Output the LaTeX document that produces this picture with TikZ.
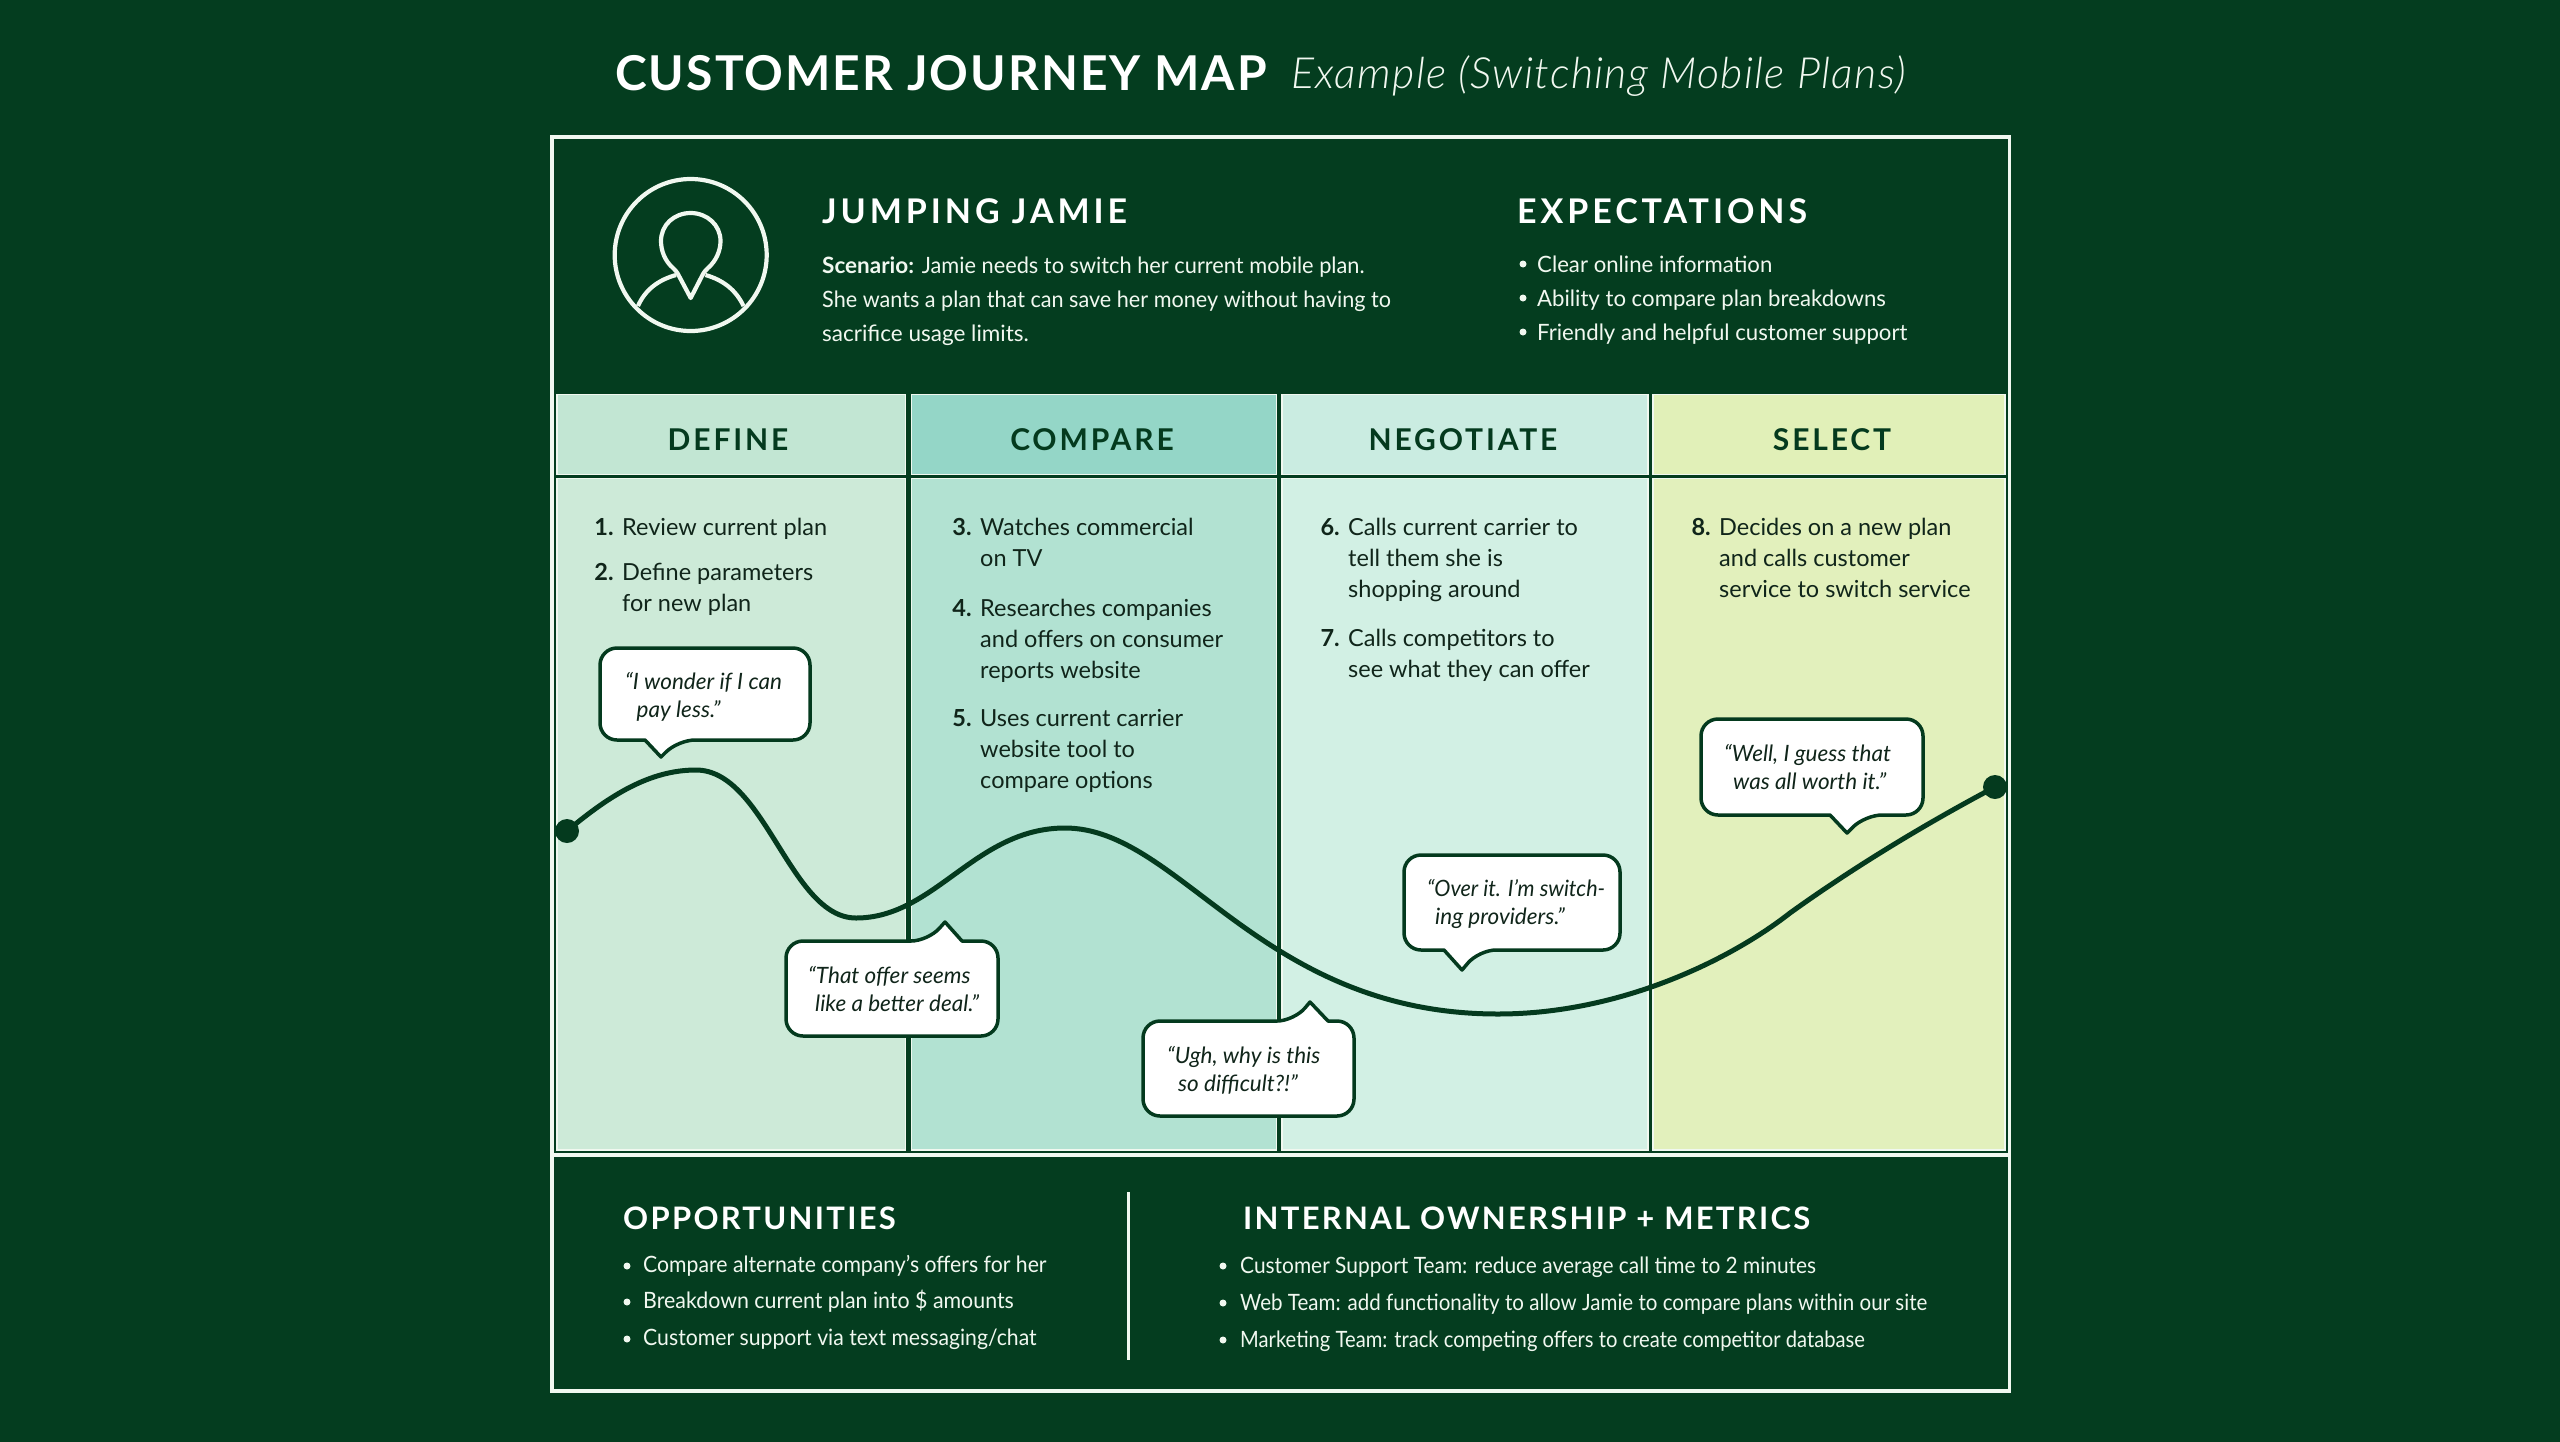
\documentclass[tikz,border=0pt]{standalone}
\usepackage{fontspec}
\setmainfont{Lato}
\newfontfamily\lightfont[LetterSpace=3.05]{Lato Light}
\newfontfamily\titlefont[LetterSpace=4.2]{Lato}
\newfontfamily\headfont[LetterSpace=11.5]{Lato}
\newfontfamily\subheadfont[LetterSpace=7.4]{Lato}
\newfontfamily\colfont[LetterSpace=9.5]{Lato}
\newcommand{\fs}[1]{\addfontfeatures{FakeStretch=#1}}
\definecolor{bgdark}{HTML}{043D1F}
\definecolor{frameW}{HTML}{F1F8F0}
\definecolor{ink}{HTML}{043A1E}
\definecolor{txt}{HTML}{10251A}
\definecolor{hOne}{HTML}{C2E6D3}
\definecolor{hTwo}{HTML}{94D6C7}
\definecolor{hThree}{HTML}{CAECE1}
\definecolor{hFour}{HTML}{E1F0B8}
\definecolor{bOne}{HTML}{CDEAD8}
\definecolor{bTwo}{HTML}{B2E2D2}
\definecolor{bThree}{HTML}{D2F0E4}
\definecolor{bFour}{HTML}{E2F0BC}
\tikzset{
  x=1pt,y=-1pt,
  panel/.style={draw=frameW,line width=1.5pt},
  colhead/.style={font=\fontsize{30}{30}\selectfont\colfont\bfseries,text=ink,anchor=base,inner sep=0pt},
  item/.style={font=\fontsize{23.5}{31}\selectfont,text=txt,anchor=north west,inner sep=0pt,align=left},
  quote/.style={font=\fontsize{22.5}{28}\selectfont\itshape,text=txt,anchor=west,inner sep=0pt,align=left},
  bubble/.style={draw=ink,fill=white,line width=3.5pt,rounded corners=17pt,line join=round},
  sectitle/.style={font=\fontsize{34}{34}\selectfont\headfont\bfseries,text=white,anchor=base west,inner sep=0pt},
  subtitle/.style={font=\fontsize{31}{31}\selectfont\subheadfont\bfseries,text=white,anchor=base west,inner sep=0pt},
  whitetext/.style={font=\fontsize{22.5}{34}\selectfont,text=frameW,anchor=base west,inner sep=0pt},
  bullet/.style={circle,fill=frameW,inner sep=0pt,minimum size=7pt},
  journey/.style={draw=ink,line width=5pt},
  jdot/.style={circle,fill=ink,inner sep=0pt,minimum size=24pt},
  icon/.style={draw=frameW,line width=4.2pt,line join=round}
}
\newcommand{\itemnum}[1]{\llap{\textbf{#1}\hspace{8.5pt}}}
% l t r b, tail base left, tail base right, tip x, tip y
\newcommand{\bubbledown}[8]{\path[bubble] (#1,#2) -- (#3,#2) -- (#3,#4) -- (#6,#4) [sharp corners] -- (#7,#8) -- (#5,#4) [rounded corners=17pt] -- (#1,#4) -- cycle;}
\newcommand{\bubbleup}[8]{\path[bubble] (#1,#4) -- (#1,#2) -- (#5,#2) [sharp corners] -- (#7,#8) -- (#6,#2) [rounded corners=17pt] -- (#3,#2) -- (#3,#4) -- cycle;}
\begin{document}
\begin{tikzpicture}
\useasboundingbox (0,0) rectangle (2560,1441);
\fill[bgdark] (-5,-5) rectangle (2565,1446);
% title
\node[anchor=base west,inner sep=0pt,text=white,font=\fontsize{48}{48}\selectfont\titlefont\bfseries] (title) at (615,90) {CUSTOMER JOURNEY MAP};
\node[anchor=base west,inner sep=0pt,text=frameW,font=\fontsize{43}{43}\selectfont\lightfont\itshape] (subtitle) at (1291,88) {Example (Switching Mobile Plans)};
% frame
\draw[draw=frameW,line width=3.5pt] (552,137) rectangle (2009.5,1391);
\draw[draw=frameW,line width=3.5pt] (552,1155) -- (2009.5,1155);
% column panels
\path[fill=hOne,panel] (557,394.5) rectangle (905.5,474.5);
\path[fill=hTwo,panel] (911.5,394.5) rectangle (1276.5,474.5);
\path[fill=hThree,panel] (1282,394.5) rectangle (1648,474.5);
\path[fill=hFour,panel] (1653,394.5) rectangle (2005,474.5);
\path[fill=bOne,panel] (557,478.5) rectangle (905.5,1150);
\path[fill=bTwo,panel] (911.5,478.5) rectangle (1276.5,1150);
\path[fill=bThree,panel] (1282,478.5) rectangle (1648,1150);
\path[fill=bFour,panel] (1653,478.5) rectangle (2005,1150);
% column heads
\node[colhead] (hdefine) at (728,450.5) {DEFINE};
\node[colhead] (hcompare) at (1092,450.5) {COMPARE};
\node[colhead] (hnegotiate) at (1463,450.5) {NEGOTIATE};
\node[colhead] (hselect) at (1832,450.5) {SELECT};
% persona icon
\draw[icon] (690.7,255) circle (76);
\draw[icon] (690.7,298) -- (679,276) .. controls (677,272) and (676,271) .. (673,268) .. controls (665,261) and (661,251) .. (661,241) .. controls (661,225) and (674,213) .. (690.7,213) .. controls (707,213) and (720.5,225) .. (720.5,241) .. controls (720.5,251) and (716,261) .. (708,268) .. controls (705,271) and (704,272) .. (702,276) -- cycle;
\draw[icon] (638,306) .. controls (645,290) and (658,280) .. (676,275);
\draw[icon] (743.5,306) .. controls (736,290) and (723,280) .. (705.5,275);
% persona text
\node[sectitle] (jamie) at (822,223) {JUMPING JAMIE};
\node[whitetext] (sc1) at (822,273) {\textbf{Scenario:} {\fs{.968}Jamie needs to switch her current mobile plan.}};
\node[whitetext] (sc2) at (822,307) {\fs{.961}She wants a plan that can save her money without having to};
\node[whitetext] (sc3) at (822,341) {sacrifice usage limits.};
\node[sectitle] (expect) at (1517,223) {EXPECTATIONS};
\node[bullet] (eb1) at (1523,264) {};
\node[bullet] (eb2) at (1523,298) {};
\node[bullet] (eb3) at (1523,332) {};
\node[whitetext] (e1) at (1537,272) {\fs{.986}Clear online information};
\node[whitetext] (e2) at (1537,306) {\fs{.986}Ability to compare plan breakdowns};
\node[whitetext] (e3) at (1537,340) {\fs{.986}Friendly and helpful customer support};
% steps
\node[item] (s1) at (622,518) {\itemnum{1.}Review current plan};
\node[item] (s2) at (622,563) {\itemnum{2.}Define parameters\\for new plan};
\node[item] (s3) at (980,518) {\itemnum{3.}Watches commercial\\on TV};
\node[item] (s4) at (980,598.5) {\itemnum{4.}Researches companies\\and offers on consumer\\reports website};
\node[item] (s5) at (980,709) {\itemnum{5.}Uses current carrier\\website tool to\\compare options};
\node[item] (s6) at (1348,518) {\itemnum{6.}Calls current carrier to\\tell them she is\\shopping around};
\node[item] (s7) at (1348,629) {\itemnum{7.}Calls competitors to\\see what they can offer};
\node[item] (s8) at (1719,518) {\itemnum{8.}Decides on a new plan\\and calls customer\\service to switch service};
% journey
\coordinate (jstart) at (567,831);
\coordinate (jend) at (1995,787);
\draw[journey] (jstart) .. controls (610,795) and (650,770) .. (696,770) .. controls (765,770) and (790,918) .. (856,918) .. controls (935,918) and (975,828) .. (1065,828) .. controls (1180,828) and (1260,1014) .. (1498,1014) .. controls (1620,1014) and (1730,960) .. (1790,913) .. controls (1840,877) and (1910,832) .. (jend);
\node[jdot] (d1) at (jstart) {};
\node[jdot] (d2) at (jend) {};
% bubbles
\bubbledown{600}{648}{810}{740}{645}{678}{661}{757}
\node[quote] (q1) at (625,696.5) {“I wonder if I can\\\hspace*{11.5pt}pay less.”};
\bubbleup{786}{941}{998}{1036}{928}{962}{945}{922}
\node[quote] (q2) at (808,989) {“That offer seems\\\hspace*{7pt}like a better deal.”};
\bubbleup{1143}{1021}{1354}{1116}{1294}{1328}{1310}{1002}
\node[quote] (q3) at (1167,1070.5) {“Ugh, why is this\\\hspace*{11pt}so difficult?!”};
\bubbledown{1404}{855}{1620}{950}{1444}{1479}{1462}{970}
\node[quote] (q4) at (1427,903.5) {{\fs{.96}“Over it. I’m switch-}\\\hspace*{8pt}ing providers.”};
\bubbledown{1701}{719}{1923}{815}{1830}{1865}{1847}{833}
\node[quote] (q5) at (1724,767) {“Well, I guess that\\\hspace*{9pt}was all worth it.”};
% bottom
\draw[draw=frameW,line width=2.5pt] (1128.5,1192) -- (1128.5,1360);
\node[subtitle] (opp) at (623,1229) {OPPORTUNITIES};
\node[subtitle] (own) at (1243,1229) {INTERNAL OWNERSHIP + METRICS};
\node[bullet] (ob1) at (627,1266) {};
\node[bullet] (ob2) at (627,1302) {};
\node[bullet] (ob3) at (627,1339) {};
\node[whitetext] (o1) at (643,1272.5) {\fs{.943}Compare alternate company’s offers for her};
\node[whitetext] (o2) at (643,1308.5) {\fs{.95}Breakdown current plan into \$ amounts};
\node[whitetext] (o3) at (643,1345.5) {\fs{.943}Customer support via text messaging/chat};
\node[bullet] (ib1) at (1223,1266) {};
\node[bullet] (ib2) at (1223,1303) {};
\node[bullet] (ib3) at (1223,1340) {};
\node[whitetext] (i1) at (1240,1273.5) {\fs{.929}Customer Support Team: reduce average call time to 2 minutes};
\node[whitetext] (i2) at (1240,1310.5) {\fs{.913}Web Team: add functionality to allow Jamie to compare plans within our site};
\node[whitetext] (i3) at (1240,1347.5) {\fs{.897}Marketing Team: track competing offers to create competitor database};
\end{tikzpicture}
\end{document}
